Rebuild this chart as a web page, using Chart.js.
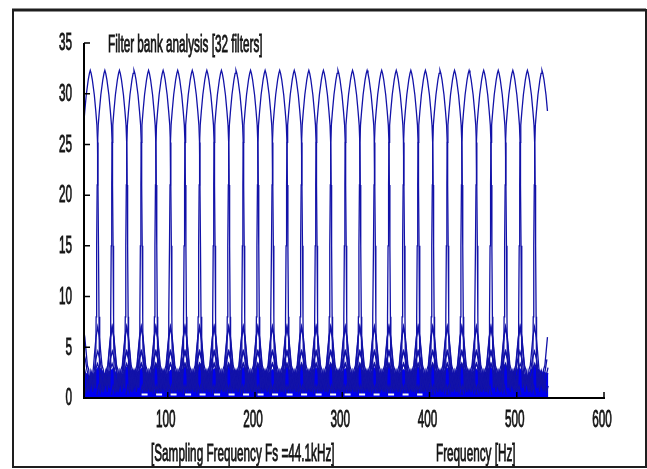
<!DOCTYPE html>
<html>
<head>
<meta charset="utf-8">
<script src="https://cdn.jsdelivr.net/npm/chart.js@4.4.1/dist/chart.umd.min.js"></script>
<style>
  html, body { margin: 0; padding: 0; background: #fff; }
  #wrap { width: 647px; height: 469px; position: relative; }
</style>
</head>
<body>
<div id="wrap"><canvas id="bank" width="647" height="469"></canvas></div>
<script>
// centre frequency of each of the 32 filters
const filterCenters = [11.2, 27.9, 44.6, 61.3, 78.0, 94.7, 111.4, 128.1, 144.8, 161.5,
  178.2, 194.9, 211.6, 228.3, 245.0, 261.7, 278.4, 295.1, 311.8, 328.5, 345.2, 361.9,
  378.6, 395.3, 412.0, 428.7, 445.4, 462.1, 478.8, 495.5, 512.2, 528.9];

// magnitude of one filter vs. distance from its centre (main lobe + sidelobes)
const lobeOffsets = [-76, -74, -72, -70, -68, -66, -64, -62, -60, -58.5, -57, -55, -53.2, -51.7,
  -50.2, -48.7, -47.2, -45.7, -44, -41.5, -39, -37.3, -35.8, -34.3, -32.8, -31.3, -29.8, -28.3,
  -26.8, -24.9, -23, -21.5, -20, -18.5, -17, -15.5, -14, -12.5, -11.1, -10.5, -10, -9.4, -8.8,
  -8.3, -7.6, -6.3, -4.6, -2.3, -1, 0, 1, 2.3, 4.6, 6.3, 7.6, 8.3, 8.8, 9.4, 10, 10.5, 11.1, 12.5, 14,
  15.5, 17, 18.5, 20, 21.5, 23, 24.9, 26.8, 28.3, 29.8, 31.3, 32.8, 34.3, 35.8, 37.3, 39, 41.5,
  44, 45.7, 47.2, 48.7, 50.2, 51.7, 53.2, 55, 57, 58.5, 60, 62, 64, 66, 68, 70, 72, 74, 76];
const lobeGains = [0.3, 1.2, 0.6, 1.6, 0.8, 1.8, 1.0, 2.2, 3.0, 3.4, 3.0, 2.2, 1.0, 2.0,
  1.2, 2.4, 1.6, 2.6, 3.8, 4.6, 3.8, 2.8, 2.2, 1.4, 2.6, 2.0, 3.0, 4.6,
  6.0, 7.0, 6.0, 4.6, 3.2, 2.8, 1.2, 2.4, 0.6, 2.2, 1.0, 3.0, 8.0, 15.0, 21.0,
  25.2, 26.9, 28.3, 29.9, 31.4, 32.0, 32.3, 32.0, 31.4, 29.9, 28.3, 26.9, 25.2, 21.0, 15.0, 8.0, 3.0, 1.0, 2.2, 0.6,
  2.4, 1.2, 2.8, 3.2, 4.6, 6.0, 7.0, 6.0, 4.6, 3.0, 2.0, 2.6, 1.4, 2.2, 2.8, 3.8, 4.6,
  3.8, 2.6, 1.6, 2.4, 1.2, 2.0, 1.0, 2.2, 3.0, 3.4, 3.0, 2.2, 1.0, 1.8, 0.8, 1.6, 0.6, 1.2, 0.3];

// dense low-level floor of overlapping far sidelobes
const floorLevels = [2.6, 2.0, 3.1, 2.3, 2.9, 1.9, 3.2, 2.2, 3.0, 2.1, 3.3, 1.8, 2.8, 2.4, 3.1, 2.0,
  3.4, 2.2, 2.9, 1.9, 3.2, 2.3, 3.0, 2.0, 3.3, 2.1, 2.8, 2.2, 3.1, 1.9, 3.2, 2.4, 3.0, 2.0,
  3.4, 2.1, 2.9, 2.3, 3.2, 1.9, 3.0, 2.2, 3.3, 2.0, 2.8, 2.4, 3.1, 2.1, 3.2, 1.9, 3.0, 2.3,
  3.4, 2.0, 2.9, 2.2, 3.1, 2.1, 3.3, 2.4, 3.0, 2.0, 3.2, 2.6, 2.4];

const xTicks = [100, 200, 300, 400, 500, 600];
const yTicks = [0, 5, 10, 15, 20, 25, 30, 35];
const freqMin = 4, freqMax = 600, dataStart = 4, dataEnd = 536.2;

const titleText = 'Filter bank analysis [32 filters]';
const fsText = '[Sampling Frequency Fs =44.1kHz]';
const xLabelText = 'Frequency [Hz]';

const FONT = '23px "Liberation Sans", Arial, sans-serif';
const SX = 0.51; // old screenshot: text is squeezed horizontally

const datasets = [];
datasets.push({
  data: [{ x: 70, y: 0.35 }, { x: 392, y: 0.35 }],
  borderColor: '#ffffff', borderWidth: 2, borderDash: [6, 8.5], order: 0
});
filterCenters.forEach(fc => {
  const pts = [];
  lobeOffsets.forEach((d, i) => {
    const f = fc + d;
    if (f <= dataEnd) pts.push({ x: f, y: lobeGains[i] });
  });
  datasets.push({ data: pts, borderColor: '#1212a8', borderWidth: 1.3, order: 1 });
});
const floorStep = (dataEnd - dataStart) / (floorLevels.length - 1);
datasets.push({
  data: floorLevels.map((v, i) => ({ x: dataStart + i * floorStep, y: v })),
  borderColor: '#0000f0', borderWidth: 1, backgroundColor: '#0000f0', fill: 'origin', order: 2
});

function squeezed(ctx, str, x, y, align, base) {
  ctx.save();
  ctx.translate(x, y);
  ctx.scale(SX, 1);
  ctx.textAlign = align;
  ctx.textBaseline = base;
  ctx.lineWidth = 0.9;
  ctx.strokeStyle = ctx.fillStyle;
  ctx.fillText(str, 0, 0);
  ctx.strokeText(str, 0, 0);
  ctx.restore();
}

const matlabAxes = {
  id: 'matlabAxes',
  afterDatasetsDraw(chart) {
    const { ctx, chartArea: a, scales: { x, y } } = chart;
    ctx.save();
    ctx.strokeStyle = '#000';
    ctx.lineWidth = 2;
    ctx.beginPath();
    ctx.moveTo(a.left, a.top);
    ctx.lineTo(a.left, a.bottom);
    ctx.lineTo(a.right + 1, a.bottom);
    ctx.stroke();

    ctx.lineWidth = 1.5;
    ctx.beginPath();
    yTicks.forEach(v => {
      const py = y.getPixelForValue(v);
      ctx.moveTo(a.left, py);
      ctx.lineTo(a.left + 6, py);
    });
    xTicks.forEach(v => {
      const px = x.getPixelForValue(v);
      ctx.moveTo(px, a.bottom);
      ctx.lineTo(px, a.bottom - 6);
    });
    ctx.stroke();

    ctx.fillStyle = '#141414';
    ctx.font = FONT;
    yTicks.forEach(v => squeezed(ctx, String(v), a.left - 12, y.getPixelForValue(v) + 1, 'right', 'middle'));
    xTicks.forEach(v => squeezed(ctx, String(v), x.getPixelForValue(v) - 2, a.bottom + 29, 'center', 'alphabetic'));
    squeezed(ctx, titleText, a.left + 24, a.top + 9, 'left', 'alphabetic');
    squeezed(ctx, fsText, a.left + 67, a.bottom + 63, 'left', 'alphabetic');
    squeezed(ctx, xLabelText, a.left + 352, a.bottom + 63, 'left', 'alphabetic');

    // figure frame
    ctx.strokeStyle = '#1e1e1e';
    ctx.lineWidth = 2;
    ctx.strokeRect(13, 10, 633, 457);
    ctx.lineWidth = 3;
    ctx.beginPath();
    ctx.moveTo(12, 10);
    ctx.lineTo(646, 10);
    ctx.stroke();
    ctx.restore();
  }
};

new Chart(document.getElementById('bank'), {
  type: 'line',
  data: { datasets },
  options: {
    responsive: false,
    animation: false,
    events: [],
    layout: { padding: { left: 84, top: 43, right: 43, bottom: 71 } },
    elements: { point: { radius: 0 }, line: { tension: 0 } },
    plugins: { legend: { display: false }, tooltip: { enabled: false } },
    scales: {
      x: { type: 'linear', min: freqMin, max: freqMax, display: false },
      y: { type: 'linear', min: 0, max: 35, display: false }
    }
  },
  plugins: [matlabAxes]
});
</script>
</body>
</html>
